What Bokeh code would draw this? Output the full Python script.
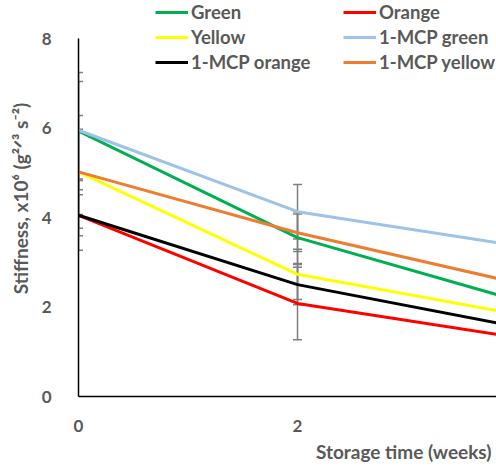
from bokeh.plotting import figure
from bokeh.models import (ColumnDataSource, Whisker, TeeHead, Legend, LegendItem,
                          FixedTicker, Range1d, Title)
from bokeh.embed import file_html
from bokeh.resources import INLINE

# ---- data ----
weeks = [0, 2, 4]
green = [5.93, 3.55, 2.15]
orange = [4.05, 2.08, 1.32]
yellow = [5.02, 2.73, 1.84]
mcp_green = [5.95, 4.13, 3.37]
mcp_orange = [4.05, 2.50, 1.56]
mcp_yellow = [5.02, 3.66, 2.54]

# error bars (visible at weeks 0 and 2)
err_weeks = [0, 2]
green_err = [1.31, 0.58]
orange_err = [0.78, 0.81]
yellow_err = [0.95, 0.56]
mcp_green_err = [1.09, 0.61]
mcp_orange_err = [0.46, 0.45]
mcp_yellow_err = [1.26, 0.42]

y_ticks = [0, 2, 4, 6, 8]
x_ticks = [0, 2, 4]

series = [
    ("Green", green, green_err, "#00B050"),
    ("Orange", orange, orange_err, "#FF0000"),
    ("Yellow", yellow, yellow_err, "#FFFF00"),
    ("1-MCP green", mcp_green, mcp_green_err, "#9DC3E6"),
    ("1-MCP orange", mcp_orange, mcp_orange_err, "#000000"),
    ("1-MCP yellow", mcp_yellow, mcp_yellow_err, "#ED7D31"),
]

FONT = "Lato"
GREY = "#595959"

p = figure(width=496, height=466, output_backend="svg", toolbar_location=None,
           x_range=Range1d(0, 3.817), y_range=Range1d(0, 8.85),
           min_border_left=78, min_border_top=0, min_border_bottom=70,
           min_border_right=0)
p.outline_line_color = None
p.xgrid.visible = False
p.ygrid.visible = False
p.background_fill_color = "white"

renderers = {}
for name, vals, errs, col in series:
    r = p.line(weeks, vals, line_color=col, line_width=3)
    renderers[name] = r

for name, vals, errs, col in series:
    src = ColumnDataSource(dict(
        x=err_weeks,
        lo=[vals[i] - errs[i] for i in range(len(err_weeks))],
        hi=[vals[i] + errs[i] for i in range(len(err_weeks))],
    ))
    w = Whisker(source=src, base="x", lower="lo", upper="hi",
                line_color="#7F7F7F", line_width=1.5,
                upper_head=TeeHead(size=9, line_color="#7F7F7F", line_width=1.5),
                lower_head=TeeHead(size=9, line_color="#7F7F7F", line_width=1.5))
    p.add_layout(w)

# axes
p.yaxis.ticker = FixedTicker(ticks=y_ticks)
p.xaxis.ticker = FixedTicker(ticks=x_ticks)
p.yaxis.bounds = (0, 8)
for ax in (p.xaxis[0], p.yaxis[0]):
    ax.axis_line_color = "black"
    ax.axis_line_width = 1.5
    ax.major_tick_line_color = None
    ax.minor_tick_line_color = None
    ax.major_label_text_font = FONT
    ax.major_label_text_font_style = "bold"
    ax.major_label_text_font_size = "17px"
    ax.major_label_text_color = GREY
p.yaxis.major_label_standoff = 21
p.xaxis.major_label_standoff = 17

p.yaxis.axis_label = "Stiffness, x10\u2076 (g\u00b2\u141f\u00b3 s\u207b\u00b2)"
p.yaxis.axis_label_text_font = FONT
p.yaxis.axis_label_text_font_style = "bold"
p.yaxis.axis_label_text_font_size = "19px"
p.yaxis.axis_label_text_color = GREY
p.yaxis.axis_label_standoff = 7

xt = Title(text="Storage time (weeks)", align="right", text_font=FONT,
           text_font_style="bold", text_font_size="19px", text_color=GREY,
           standoff=6, offset=5)
p.add_layout(xt, "below")

# legends: two columns
def make_legend(names, loc):
    lg = Legend(items=[LegendItem(label=n, renderers=[renderers[n]]) for n in names],
                location=loc, orientation="vertical",
                label_text_font=FONT, label_text_font_style="bold",
                label_text_font_size="18.5px", label_text_color=GREY,
                glyph_width=33, glyph_height=20, label_height=20,
                label_standoff=3, spacing=3, padding=0, margin=0,
                border_line_color=None, background_fill_alpha=0)
    return lg

p.add_layout(make_legend(["Green", "Yellow", "1-MCP orange"], (77, 323)))
p.add_layout(make_legend(["Orange", "1-MCP green", "1-MCP yellow"], (265, 323)))

open("out.html", "w").write(file_html(p, INLINE))
